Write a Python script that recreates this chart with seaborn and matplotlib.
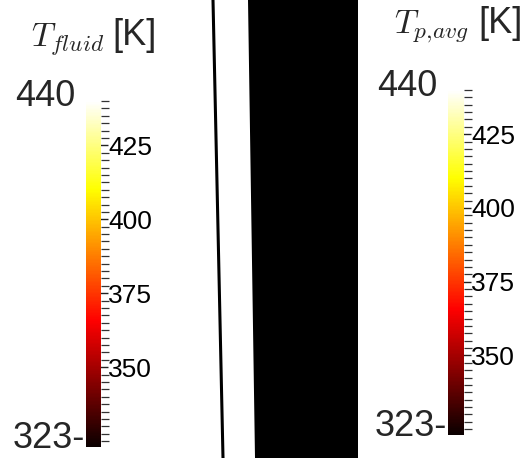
import matplotlib
matplotlib.use('Agg')
import matplotlib.pyplot as plt
import matplotlib.colorbar as mcolorbar
from matplotlib.colors import Normalize
from matplotlib.ticker import MultipleLocator, FixedLocator
import seaborn as sns

# ---- data ----
t_min = 323
t_max = 440
major_ticks = [350, 375, 400, 425]
minor_step = 2.5
titles = [r'$T_{fluid}$', r'$T_{p,\!avg}$']
unit = '[K]'

# geometry of the slice (pixel space of the picture)
wall_line_x = [213, 223]
wall_line_y = [0, 458]
slab_y = [0, 458]
slab_left = [248, 255]
slab_right = [358, 358]

sns.set_style('white')
plt.rcParams['font.family'] = ['Liberation Sans', 'DejaVu Sans']
plt.rcParams['mathtext.fontset'] = 'cm'

W, H = 526, 458
fig = plt.figure(figsize=(W / 100, H / 100), dpi=100)
ax = fig.add_axes([0, 0, 1, 1])
ax.set_xlim(0, W)
ax.set_ylim(H, 0)
ax.axis('off')

# black geometry in the middle
ax.fill_betweenx(slab_y, slab_left, slab_right, color='black', lw=0)
sns.lineplot(x=wall_line_x, y=wall_line_y, ax=ax, color='black', lw=2.2, sort=False)

norm = Normalize(t_min, t_max)


def add_bar(x0, x1, y_top, y_bot, title, title_x, title_y, unit_x):
    cax = fig.add_axes([x0 / W, 1 - y_bot / H, (x1 - x0) / W, (y_bot - y_top) / H])
    cb = mcolorbar.ColorbarBase(cax, cmap='hot', norm=norm, orientation='vertical')
    cb.outline.set_visible(False)
    cax.yaxis.set_ticks_position('right')
    cax.yaxis.set_major_locator(FixedLocator(major_ticks))
    cax.yaxis.set_minor_locator(MultipleLocator(minor_step))
    cax.tick_params(axis='y', which='major', direction='inout', length=10,
                    width=1, colors='#222222', labelsize=19, pad=0, labelcolor='black')
    cax.tick_params(axis='y', which='minor', direction='out', length=5.8,
                    width=0.9, colors='#333333')
    # range labels
    ax.text(x0 - 11, y_top - 4, str(t_max), fontsize=26, ha='right', va='center')
    ax.text(x0 - 1, y_bot - 8, str(t_min) + '-', fontsize=26, ha='right', va='center')
    # title
    ax.text(title_x, title_y, title, fontsize=24, ha='left', va='baseline')
    ax.text(unit_x, title_y, unit, fontsize=26, ha='left', va='baseline')


add_bar(86, 101, 101, 447, titles[0], 31, 45, 112)
add_bar(448, 464, 90, 435, titles[1], 394, 33, 478)

fig.savefig('out.png', dpi=100)
